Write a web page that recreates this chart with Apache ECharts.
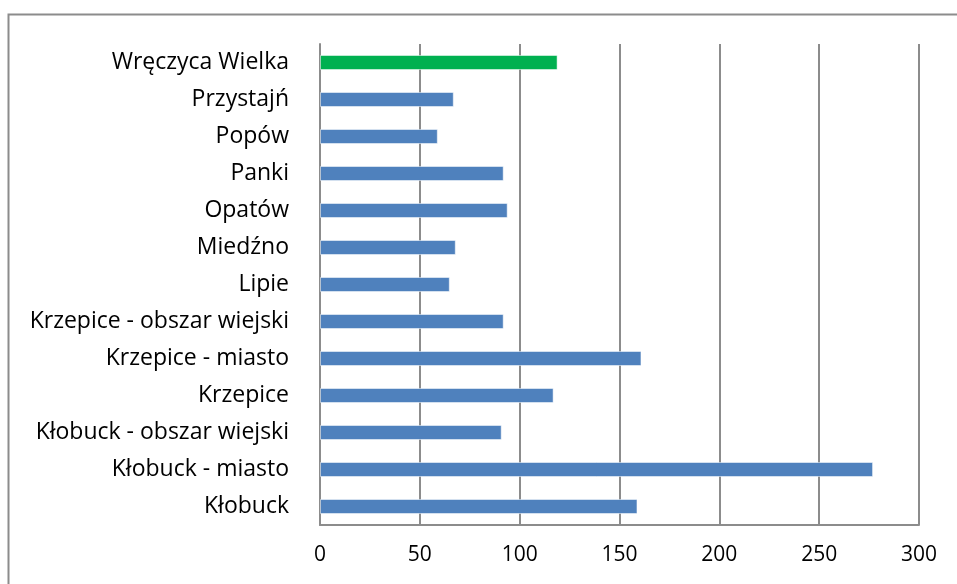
<!DOCTYPE html>
<html>
<head>
<meta charset="utf-8">
<script src="https://cdn.jsdelivr.net/npm/echarts@6/dist/echarts.min.js"></script>
<style>
  html, body { margin: 0; padding: 0; background: #fff; }
  #chart { width: 957px; height: 584px; }
</style>
</head>
<body>
<div id="chart"></div>
<script>
// categories listed bottom -> top
const gminy = [
    'Kłobuck', 'Kłobuck - miasto', 'Kłobuck - obszar wiejski', 'Krzepice',
    'Krzepice - miasto', 'Krzepice - obszar wiejski', 'Lipie', 'Miedźno',
    'Opatów', 'Panki', 'Popów', 'Przystajń', 'Wręczyca Wielka'
];
const values = [159, 277, 91, 117, 161, 92, 65, 68, 94, 92, 59, 67, 119];
const highlighted = 'Wręczyca Wielka';
const xTicks = [0, 50, 100, 150, 200, 250, 300];

let myChart = echarts.init(document.getElementById('chart'));

let barData = [];
for (let i = 0; i < gminy.length; i++) {
    barData.push({
        value: values[i],
        itemStyle: { color: gminy[i] === highlighted ? '#00b050' : '#4f81bd' }
    });
}

const font = '"Open Sans", Lato, sans-serif';

let option = {
    backgroundColor: '#fff',
    animation: false,
    graphic: [{
        type: 'rect',
        shape: { x: 8.5, y: 14.5, width: 1000, height: 700 },
        style: { fill: 'none', stroke: '#8c8c8c', lineWidth: 2 },
        silent: true
    }],
    grid: { left: 320, right: 38, top: 44, bottom: 59 },
    xAxis: {
        type: 'value',
        min: xTicks[0],
        max: xTicks[xTicks.length - 1],
        interval: 50,
        axisLine: { show: true, lineStyle: { color: '#8c8c8c', width: 2 } },
        axisTick: { show: false },
        splitLine: { lineStyle: { color: '#8c8c8c', width: 2 } },
        axisLabel: { color: '#000', fontSize: 21, fontFamily: font, margin: 20 }
    },
    yAxis: {
        type: 'category',
        data: gminy,
        axisLine: { show: true, lineStyle: { color: '#8c8c8c', width: 2 } },
        axisTick: { show: false },
        axisLabel: { color: '#000', fontSize: 23, fontFamily: font, margin: 31 }
    },
    series: [{
        type: 'bar',
        data: barData,
        barWidth: 15,
        itemStyle: { borderColor: 'rgba(255,255,255,0.5)', borderWidth: 1 }
    }]
};

option && myChart.setOption(option);
</script>
</body>
</html>
